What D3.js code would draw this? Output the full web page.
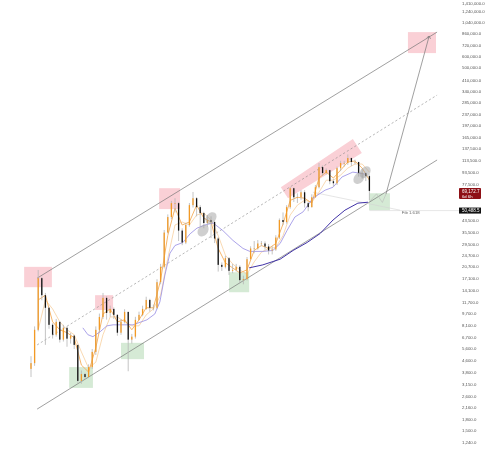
<!DOCTYPE html>
<html><head><meta charset="utf-8">
<script src="https://cdn.jsdelivr.net/npm/d3@7"></script>
<style>html,body{margin:0;padding:0;background:#fff}svg{display:block;filter:blur(.3px)}</style>
</head><body><svg id="c" width="489" height="450"></svg>
<script>
const closes=[4385,7480,17100,13020,10640,8100,6915,8500,6390,7720,6490,6810,5875,3300,3680,3510,4115,5250,7480,9190,12470,9800,10450,9500,7140,8500,9960,6390,6700,8770,9500,10450,12070,10640,10640,16040,20500,35500,45530,56860,56860,36640,30280,40070,55070,61530,53340,48480,41370,43400,42050,32270,21160,20500,23550,19230,19540,20500,16570,16830,23170,27520,27520,29800,29800,28410,26650,27090,32780,43400,42050,53340,72230,62500,62500,67690,56860,53340,62500,73400,101260,92030,96490,80770,78230,99670,108200,108200,117130,109980,109980,92030,92030,87710,69172.7];
const highs=[4900,7900,19500,17500,13500,10800,8300,8900,8500,8100,7900,7100,6900,5800,3900,3750,4300,5500,7900,9700,13500,12800,11000,10700,9600,8900,10400,10000,7000,9200,10000,11000,12700,12300,11200,16800,21500,37000,47500,59000,61500,58000,38000,41500,57000,68000,62500,55000,49500,47000,46000,43000,33000,22000,24500,24000,21500,21500,21000,17800,24000,28500,31000,31500,31000,30800,29500,28500,34000,44500,49000,55000,73800,73000,66500,70000,70000,58000,65500,76000,108000,104000,99000,97000,84000,102000,112000,112000,124000,118000,114000,110000,98000,93000,90000];
const lows=[3510,4200,7300,12000,5875,7600,6500,6700,6100,6200,5700,6000,5500,3200,3150,3400,3450,4000,5000,7200,8900,8800,9200,8900,6800,6900,8300,3850,6000,6500,8700,9300,10300,10000,10200,10400,15500,20000,35000,44000,49000,31000,29000,29500,39000,53000,46000,39000,38000,39000,32500,30000,19000,19200,20000,18000,18500,19000,15700,15500,16500,23000,25500,27000,28500,27000,25000,25000,26500,32000,40000,41000,52000,58000,57000,60000,53000,50000,53000,62000,72000,88000,90000,77000,74000,76000,95000,102000,105000,103000,106000,87000,84000,81000,59770];
const firstOpen=4000;

const emaBars=[2,4,6,8,10,12,14,16,18,20,22,24,26,28,30,32,34,36,38,40,42,44,46,48,50,52,54,56,58,60,62,64,66,68,70,72,74,76,78,80,82,84,86,88,90,92,94];
const fastEma=[12070,13020,8500,7480,7140,6590,4250,3800,5600,9640,10450,8500,8770,7480,8770,10640,10640,16570,33950,52500,40070,42050,55070,44800,42050,27520,21850,20170,18600,19540,26650,28860,27520,29800,40700,59400,62500,61530,56860,85000,93500,85000,96490,109980,111700,99670,82100];
const slowEma=[7480,12070,10450,8500,7480,6915,5250,4050,4450,6915,9190,9190,8500,7970,7970,9500,10450,13020,23550,40070,42050,40070,47000,48480,43400,33840,24700,21500,19540,18200,22200,25900,27520,27960,33840,47000,55070,59570,57700,67690,82100,82100,89100,99670,106400,106400,93500];
const midMaBars=[14.4,15.8,17.2,19.2,21.1,22.8,24.7,28.3,32.2,34.4,35.8,37.2,38.6,40,42.2,44.2,46.1,48.3,50.6,53.3,56.1,58.9,60.8,64.4,67.2,69.2,71.1,73.3,75.6,78.3,81.7,83.9,86.4,89.4,92.8];
const midMa=[7720,6915,6700,7250,7970,8100,8100,8100,8770,9640,11700,18000,25500,28860,30280,34800,38100,40070,41370,36640,31300,27520,26250,26250,26650,29800,36640,45530,49500,61530,70000,73400,86500,93500,90500];
const longMaBars=[60.6,64.4,69.2,72.8,76.7,80.3,83.9,87.2,90.8,93.6];
const longMa=[20170,21160,23170,26650,30280,34940,43400,50800,56860,57700];

const channelBars=[1.7,112.8];
const channelTop=[17100,880300];
const channelMid=[5870,320900];
const channelBottom=[2100,113500];

const pinkBoxes=[[-1.9,5.8,20500,14800],[17.8,22.8,13020,10280],[35.6,41.4,72230,51700],[104.7,112.5,880000,628800]];
const greenBoxes=[[10.6,17.2,4115,2950],[25,31.4,6070,4675],[55,60.6,18800,13650],[93.9,99.7,66600,50800]];
const pinkBand=[[69.4,73400],[89.4,158600],[91.9,126800],[71.4,61530]];
const blobs=[[47.8,36640],[50,44800],[91.1,85000],[92.8,93500]];
const zigzag=[[94.2,59000],[96,66000],[97.6,57500],[98.6,65700]];
const projection=[[98.6,65700],[110.6,825400]];
const fibLine=[[78.3,67690],[102.5,50800]];

const tickValues=[1410000,1240000,1040000,860000,720000,600000,500000,410000,340000,285000,237000,197000,165000,137500,113500,93500,77500,43500,35500,29500,24700,20700,17100,14100,11700,9700,8100,6700,5600,4600,3800,3150,2600,2160,1800,1500,1240];
const lastPrice=69172.7, lastTimer="6d 6h", markPrice=50488.5, fibLabel="Fib 1.618";

const svg=d3.select("#c");
const x=d3.scaleLinear().domain([0,94]).range([31,369.4]);
const y=d3.scaleLog().domain([1240,1240000]).range([442,10.7]);
const fmt=d3.format(",.1f");
const linePx=d3.line().x(d=>x(d[0])).y(d=>y(d[1]));
const g=svg.append("g");

g.selectAll(".pb").data(pinkBoxes).join("rect").attr("x",d=>x(d[0])).attr("width",d=>x(d[1])-x(d[0])).attr("y",d=>y(d[2])).attr("height",d=>y(d[3])-y(d[2])).attr("fill","#fad0d6");
g.selectAll(".gb").data(greenBoxes).join("rect").attr("x",d=>x(d[0])).attr("width",d=>x(d[1])-x(d[0])).attr("y",d=>y(d[2])).attr("height",d=>y(d[3])-y(d[2])).attr("fill","#d5ead5");
g.append("path").attr("d",linePx(pinkBand)+"Z").attr("fill","#fad0d6");

const ch=(vals)=>linePx(channelBars.map((b,i)=>[b,vals[i]]));
g.append("path").attr("d",ch(channelTop)).attr("fill","none").attr("stroke","#777").attr("stroke-width",.7);
g.append("path").attr("d",ch(channelBottom)).attr("fill","none").attr("stroke","#777").attr("stroke-width",.7);
g.append("path").attr("d",ch(channelMid)).attr("fill","none").attr("stroke","#888").attr("stroke-width",.6).attr("stroke-dasharray","2.2 2.2");

g.append("line").attr("x1",x(94)).attr("x2",459).attr("y1",y(markPrice)).attr("y2",y(markPrice)).attr("stroke","#d8d8d8").attr("stroke-width",.6);
g.append("path").attr("d",linePx(fibLine)).attr("fill","none").attr("stroke","#d4d4d4").attr("stroke-width",.6);
g.append("text").attr("x",x(103)).attr("y",y(markPrice)+3.4).attr("font-family","Liberation Sans").attr("font-size",4.3).attr("fill","#666").text(fibLabel);

const mk=(bars,vals,color,w)=>g.append("path").attr("d",linePx(bars.map((b,i)=>[b,vals[i]]))).attr("fill","none").attr("stroke",color).attr("stroke-width",w).attr("stroke-linejoin","round");
mk(emaBars,slowEma,"#f8cf9e",.8);
mk(emaBars,fastEma,"#f5b56a",1);
mk(midMaBars,midMa,"#958be3",.8);
mk(longMaBars,longMa,"#4032a6",1);

const bars=closes.map((c,i)=>({i,c,o:i?closes[i-1]:firstOpen,h:highs[i],l:lows[i]}));
g.selectAll(".w").data(bars).join("line").attr("x1",d=>x(d.i)).attr("x2",d=>x(d.i)).attr("y1",d=>y(d.h)).attr("y2",d=>y(d.l)).attr("stroke","#b5b5b5").attr("stroke-width",.8);
g.selectAll(".b").data(bars).join("rect").attr("x",d=>x(d.i)-.65).attr("width",1.3).attr("y",d=>y(Math.max(d.o,d.c))).attr("height",d=>Math.max(.6,Math.abs(y(d.o)-y(d.c)))).attr("fill",d=>d.c>=d.o?"#f39a25":"#111");

g.selectAll(".e").data(blobs).join("ellipse").attr("cx",0).attr("cy",0).attr("rx",4.8).attr("ry",6.5).attr("transform",d=>`translate(${x(d[0])},${y(d[1])}) rotate(40)`).attr("fill","#a0a0a0").attr("fill-opacity",.5);

g.append("path").attr("d",linePx(zigzag)).attr("fill","none").attr("stroke","#bbb").attr("stroke-width",.6);
g.append("path").attr("d",linePx(projection)).attr("fill","none").attr("stroke","#777").attr("stroke-width",.7);
const tip=projection[1];
g.append("path").attr("d",`M${x(tip[0])-2.4},${y(tip[1])+1.6}L${x(tip[0])},${y(tip[1])}L${x(tip[0])+1.4},${y(tip[1])+2.8}`).attr("fill","none").attr("stroke","#777").attr("stroke-width",.7);

const ax=svg.append("g").attr("transform","translate(461,0)").call(d3.axisRight(y).tickValues(tickValues).tickSize(0).tickPadding(1).tickFormat(fmt));
ax.select(".domain").remove();
ax.selectAll("text").attr("font-family","Liberation Sans").attr("font-size",4.3).attr("fill","#555");

const ly=y(lastPrice);
svg.append("rect").attr("x",459).attr("y",ly-3).attr("width",22).attr("height",11).attr("rx",.8).attr("fill","#8e1016");
svg.append("text").attr("x",462).attr("y",ly+1.7).attr("font-family","Liberation Sans").attr("font-size",4.5).attr("fill","#fff").text(fmt(lastPrice));
svg.append("text").attr("x",462).attr("y",ly+6.6).attr("font-family","Liberation Sans").attr("font-size",4.2).attr("fill","#fff").text(lastTimer);
const my=y(markPrice);
svg.append("rect").attr("x",459).attr("y",my-3).attr("width",22).attr("height",6).attr("fill","#111");
svg.append("text").attr("x",462).attr("y",my+1.6).attr("font-family","Liberation Sans").attr("font-size",4.5).attr("fill","#fff").text(fmt(markPrice));
</script></body></html>
